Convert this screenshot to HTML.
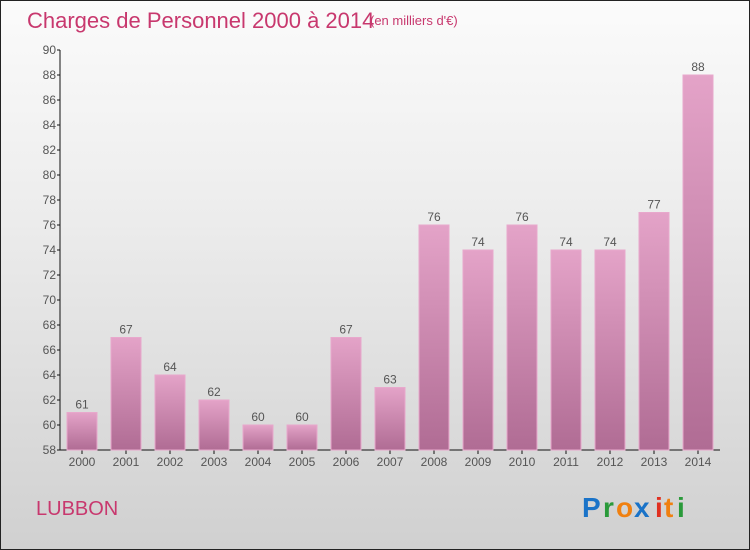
<!DOCTYPE html>
<html><head><meta charset="utf-8"><style>
body{margin:0;}
#c{position:relative;width:748px;height:548px;border:1px solid #222;background:linear-gradient(#fbfbfb,#ececec 40%,#d0d0d0);font-family:"Liberation Sans",sans-serif;overflow:hidden;}
</style></head><body>
<div id="c">
<svg width="748" height="548" viewBox="1 1 748 548" xmlns="http://www.w3.org/2000/svg">
<defs><linearGradient id="bg" x1="0" y1="0" x2="0" y2="1"><stop offset="0" stop-color="#e4a3c8"/><stop offset="1" stop-color="#b06c94"/></linearGradient></defs>
<text x="27" y="28" font-size="22" fill="#c8386e">Charges de Personnel 2000 à 2014</text>
<text x="370" y="25" font-size="13" fill="#c8386e">(en milliers d'€)</text>
<g id="axes"></g>
<g id="bars"></g>
<text x="36" y="515" font-size="20" fill="#c8386e">LUBBON</text>
<g font-size="28" font-weight="bold">
<text x="582" y="517" fill="#1a73c8">P</text><text x="603" y="517" fill="#2a9a3a">r</text><text x="616" y="517" fill="#f08010">o</text><text x="634" y="517" fill="#1a73c8">x</text><text x="655" y="517" fill="#e03020">i</text><text x="664" y="517" fill="#f08010">t</text><text x="677" y="517" fill="#2a9a3a">i</text>
</g>
</svg></div>
<script>
const categories=["2000","2001","2002","2003","2004","2005","2006","2007","2008","2009","2010","2011","2012","2013","2014"];
const values=[61,67,64,62,60,60,67,63,76,74,76,74,74,77,88];
const yTicks=[58,60,62,64,66,68,70,72,74,76,78,80,82,84,86,88,90];
const NS="http://www.w3.org/2000/svg";
const yMin=58,yMax=90,y0=450,y1=50;
const y=v=>y0-(v-yMin)/(yMax-yMin)*(y0-y1);
const x=i=>82+i*44;
function mk(t,a,p){const e=document.createElementNS(NS,t);for(const k in a)e.setAttribute(k,a[k]);p.appendChild(e);return e;}
const ax=document.getElementById('axes'),bars=document.getElementById('bars');
let l=mk('line',{x1:60,y1:50,x2:60,y2:450,stroke:'#111'},ax);


l=mk('line',{x1:60,y1:450,x2:720,y2:450,stroke:'#111'},ax);


yTicks.forEach(v=>{
 mk('line',{x1:57,y1:y(v),x2:60,y2:y(v),stroke:'#111'},ax);
 const t=mk('text',{x:56,y:y(v)+4,'font-size':12,fill:'#555','text-anchor':'end'},ax);t.textContent=v;
 
 
});
categories.forEach((c,i)=>{
 mk('line',{x1:x(i),y1:450,x2:x(i),y2:454,stroke:'#111'},ax);
 const t=mk('text',{x:x(i),y:466,'font-size':12,fill:'#555','text-anchor':'middle'},ax);t.textContent=c;
 
 
 const r=mk('rect',{x:x(i)-15,y:y(values[i]),width:30,height:450-y(values[i]),fill:'url(#bg)',stroke:'#e8a8cc','stroke-width':1},bars);
 
 
 const lb=mk('text',{x:x(i),y:y(values[i])-4,'font-size':12,fill:'#555','text-anchor':'middle'},bars);lb.textContent=values[i];
 
 
});
</script>
</body></html>
